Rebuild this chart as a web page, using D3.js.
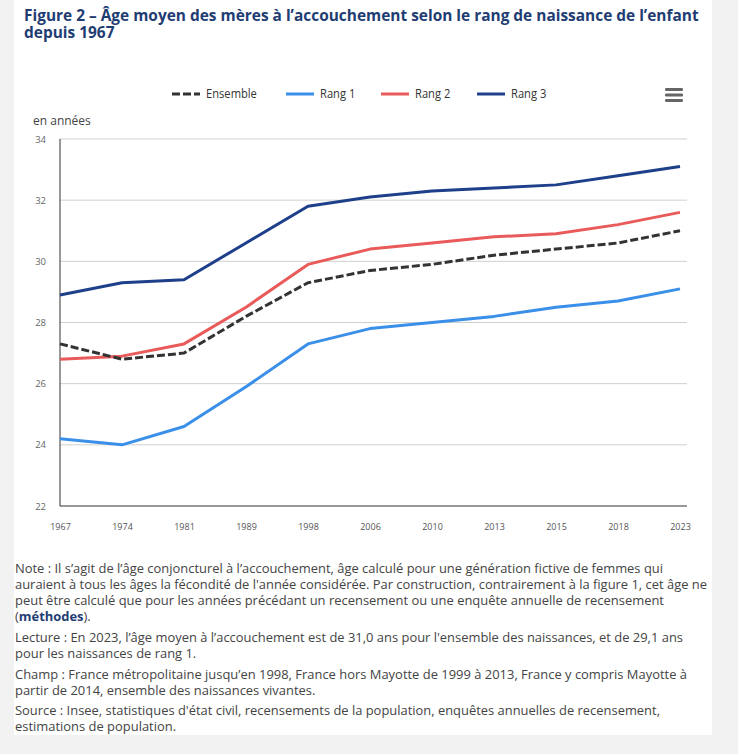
<!DOCTYPE html>
<html lang="fr">
<head>
<meta charset="UTF-8">
<title>Figure 2 – Âge moyen des mères à l'accouchement</title>
<script src="https://d3js.org/d3.v7.min.js"></script>
<style>
  body { margin: 0; background: #f2f2f2; }
  svg { display: block; font-family: "Open Sans", Arial, sans-serif; }
</style>
</head>
<body>
<div id="chart"></div>
<script>
// data
var years = ['1967', '1974', '1981', '1989', '1998', '2006', '2010', '2013', '2015', '2018', '2023'];
var ensemble = [27.3, 26.8, 27.0, 28.2, 29.3, 29.7, 29.9, 30.2, 30.4, 30.6, 31.0];
var rang1 = [24.2, 24.0, 24.6, 25.9, 27.3, 27.8, 28.0, 28.2, 28.5, 28.7, 29.1];
var rang2 = [26.8, 26.9, 27.3, 28.5, 29.9, 30.4, 30.6, 30.8, 30.9, 31.2, 31.6];
var rang3 = [28.9, 29.3, 29.4, 30.6, 31.8, 32.1, 32.3, 32.4, 32.5, 32.8, 33.1];
var yTicks = [22, 24, 26, 28, 30, 32, 34];

var series = [
  {name: 'Ensemble', values: ensemble, color: '#333333', dash: '8,3'},
  {name: 'Rang 1', values: rang1, color: '#3a8fe8', dash: null},
  {name: 'Rang 2', values: rang2, color: '#e95b5b', dash: null},
  {name: 'Rang 3', values: rang3, color: '#1e3f8a', dash: null}
];

var W = 738, H = 754;
var plot = {left: 60, right: 687, top: 139, bottom: 506};
var legendX = [172, 286, 381, 477];   // left edge of each legend swatch

var svg = d3.select('#chart').append('svg')
  .attr('width', W).attr('height', H);

// white panel
svg.append('rect').attr('x', 14).attr('y', 0).attr('width', 698).attr('height', 735).attr('fill', '#fff');

// fit a text line to a target width (the original font is narrower than Open Sans)
function fit(sel, width) {
  sel.attr('textLength', width).attr('lengthAdjust', 'spacingAndGlyphs');
}

// title: one text, two lines, squeezed horizontally like the condensed original
var titleColor = '#1f3d73';
var title = svg.append('text')
  .attr('font-size', 16.5).attr('font-weight', 700).attr('fill', titleColor);
var tl1 = title.append('tspan').attr('x', 0).attr('y', 21.5)
  .text('Figure 2 – Âge moyen des mères à l’accouchement selon le rang de naissance de l’enfant');
title.append('tspan').attr('x', 0).attr('y', 38.5).text('depuis 1967');
var sx = 675 / tl1.node().getComputedTextLength();
title.attr('transform', 'translate(24,0) scale(' + sx + ',1)');

// scales
var x = d3.scalePoint().domain(years).range([60, 680]);
var y = d3.scaleLinear().domain([22, 34]).range([plot.bottom, plot.top]);

// grid lines
svg.append('g').selectAll('line')
  .data(yTicks.filter(d => d > 22))
  .enter().append('line')
  .attr('x1', plot.left).attr('x2', plot.right)
  .attr('y1', d => y(d)).attr('y2', d => y(d))
  .attr('stroke', '#d0d0d0').attr('stroke-width', 1);

// y axis
var yAxis = svg.append('g')
  .attr('transform', 'translate(' + plot.left + ',0)')
  .call(d3.axisLeft(y).tickValues(yTicks).tickSize(0).tickPadding(14));
yAxis.select('.domain').remove();
yAxis.selectAll('text').attr('font-size', 9.5).attr('fill', '#666').attr('font-family', '"Open Sans", sans-serif');

// x axis
var xAxis = svg.append('g')
  .attr('transform', 'translate(0,' + plot.bottom + ')')
  .call(d3.axisBottom(x).tickSize(0).tickPadding(18));
xAxis.select('.domain').remove();
xAxis.selectAll('text').attr('font-size', 9).attr('fill', '#555').attr('font-family', '"Open Sans", sans-serif');

// axis lines
svg.append('line').attr('x1', plot.left).attr('x2', plot.left)
  .attr('y1', plot.top).attr('y2', plot.bottom).attr('stroke', '#333');
svg.append('line').attr('x1', plot.left).attr('x2', plot.right)
  .attr('y1', plot.bottom).attr('y2', plot.bottom).attr('stroke', '#333');

// unit label
svg.append('text').attr('x', 33).attr('y', 125)
  .attr('font-size', 12).attr('fill', '#444').text('en années');

// lines, drawn from Rang 3 back to Ensemble so the dashed one sits on top
var line = d3.line()
  .x((d, i) => x(years[i]))
  .y(d => y(d));

series.slice().reverse().forEach(function(s) {
  svg.append('path')
    .datum(s.values)
    .attr('fill', 'none')
    .attr('stroke', s.color)
    .attr('stroke-width', 3)
    .attr('stroke-linejoin', 'round')
    .attr('stroke-dasharray', s.dash)
    .attr('d', line);
});

// legend
series.forEach(function(s, i) {
  var lx = legendX[i];
  var g = svg.append('g');
  g.append('line').attr('x1', lx).attr('x2', lx + 28)
    .attr('y1', 94).attr('y2', 94)
    .attr('stroke', s.color).attr('stroke-width', 3)
    .attr('stroke-dasharray', s.dash);
  var txt = g.append('text').attr('x', lx + 34).attr('y', 98)
    .attr('font-size', 12).attr('fill', '#333').text(s.name);
  fit(txt, txt.node().getComputedTextLength() * 0.93);
});

// menu icon
[88, 93.5, 99].forEach(function(yy) {
  svg.append('rect').attr('x', 665).attr('y', yy).attr('width', 18).attr('height', 3)
    .attr('rx', 1.2).attr('fill', '#666');
});

// notes below the chart
var notes = [
  {y: 573, end: 663, text: 'Note : Il s’agit de l’âge conjoncturel à l’accouchement, âge calculé pour une génération fictive de femmes qui'},
  {y: 589, end: 707, text: 'auraient à tous les âges la fécondité de l\'année considérée. Par construction, contrairement à la figure 1, cet âge ne'},
  {y: 605, end: 664, text: 'peut être calculé que pour les années précédant un recensement ou une enquête annuelle de recensement'},
  {y: 621, end: null, text: null},
  {y: 641.5, end: 683, text: 'Lecture : En 2023, l’âge moyen à l’accouchement est de 31,0 ans pour l\'ensemble des naissances, et de 29,1 ans'},
  {y: 657.5, end: null, text: 'pour les naissances de rang 1.'},
  {y: 678.5, end: 687, text: 'Champ : France métropolitaine jusqu’en 1998, France hors Mayotte de 1999 à 2013, France y compris Mayotte à'},
  {y: 694.5, end: null, text: 'partir de 2014, ensemble des naissances vivantes.'},
  {y: 715, end: 660, text: 'Source : Insee, statistiques d\'état civil, recensements de la population, enquêtes annuelles de recensement,'},
  {y: 731, end: null, text: 'estimations de population.'}
];

var ratios = [];
var pending = [];
notes.forEach(function(n) {
  var t = svg.append('text').attr('x', 15).attr('y', n.y)
    .attr('font-size', 12.5).attr('fill', '#444');
  if (n.text === null) {
    t.append('tspan').text('(');
    t.append('tspan').attr('font-weight', 700).attr('fill', titleColor).text('méthodes');
    t.append('tspan').text(').');
  } else {
    t.text(n.text);
  }
  var len = t.node().getComputedTextLength();
  if (n.end) {
    ratios.push((n.end - 15) / len);
    fit(t, n.end - 15);
  } else {
    pending.push({sel: t, len: len});
  }
});
var ratio = d3.mean(ratios);
pending.forEach(function(p) { fit(p.sel, p.len * ratio); });
</script>
</body>
</html>
